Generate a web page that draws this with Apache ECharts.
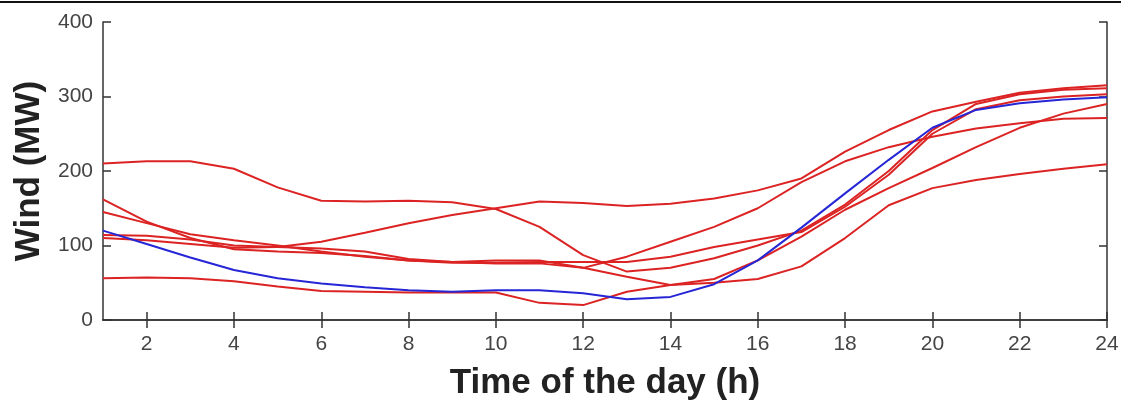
<!DOCTYPE html>
<html>
<head>
<meta charset="utf-8">
<script src="https://cdn.jsdelivr.net/npm/echarts@6/dist/echarts.min.js"></script>
<style>
  html, body { margin: 0; padding: 0; background: #fff; }
  #chart { width: 1121px; height: 400px; }
</style>
</head>
<body>
<div id="chart"></div>
<script>
const hours = [1,2,3,4,5,6,7,8,9,10,11,12,13,14,15,16,17,18,19,20,21,22,23,24];
const yTicks = [0, 100, 200, 300, 400];

const redA = [210,213,213,203,178,160,159,160,158,149,125,87,65,70,83,100,120,155,200,255,290,303,309,311];
const redB = [110,107,102,97,98,105,117,130,141,150,159,157,153,156,163,174,190,226,255,280,293,305,311,315];
const redC = [162,132,110,95,92,90,86,80,78,80,80,70,85,105,125,150,185,213,232,246,257,264,270,271];
const redD = [145,130,115,107,100,92,85,80,77,77,78,78,78,85,98,108,118,152,195,250,283,295,300,303];
const redE = [114,113,108,100,98,96,92,82,78,76,76,70,58,47,55,80,112,148,177,204,232,258,277,290];
const redF = [56,57,56,52,45,39,38,37,37,37,23,20,38,47,50,55,72,110,154,177,188,196,203,209];
const blue = [120,102,84,67,56,49,44,40,38,40,40,36,28,31,48,80,124,170,215,258,282,291,296,299];

const reds = [redA, redB, redC, redD, redE, redF];
const RED = '#dc2323';
const BLUE = '#2626d6';
const AXIS = '#333';
const font = '"Liberation Sans", Arial, Helvetica, sans-serif';

const chart = echarts.init(document.getElementById('chart'));

const evenIdx = (i) => i % 2 === 1;

const series = reds.map((d) => ({
  type: 'line', data: d, showSymbol: false, symbol: 'none',
  lineStyle: { color: RED, width: 2 }, silent: true, animation: false
}));
series.push({
  type: 'line', data: blue, showSymbol: false, symbol: 'none',
  lineStyle: { color: BLUE, width: 2 }, silent: true, animation: false
});

chart.setOption({
  animation: false,
  backgroundColor: '#fff',
  grid: { left: 103, right: 14, top: 22, bottom: 80, containLabel: false, outerBoundsMode: 'none' },
  graphic: [{
    type: 'line', shape: { x1: 0, y1: 2, x2: 1121, y2: 2 },
    style: { stroke: '#111', lineWidth: 2 }
  }],
  xAxis: [{
    type: 'category', data: hours, boundaryGap: false, position: 'bottom',
    name: 'Time of the day (h)', nameLocation: 'middle', nameGap: 46,
    nameTextStyle: { fontFamily: font, fontSize: 35, fontWeight: 'bold', color: '#222' },
    axisLine: { lineStyle: { color: AXIS, width: 1.5 } },
    axisTick: { inside: true, length: 8, interval: evenIdx, lineStyle: { color: AXIS, width: 1.5 } },
    axisLabel: { interval: evenIdx, fontFamily: font, fontSize: 21, color: '#444', margin: 14 },
    splitLine: { show: false }
  }, {
    type: 'category', data: hours, boundaryGap: false, position: 'top',
    axisLine: { lineStyle: { color: AXIS, width: 1.5 } },
    axisTick: { inside: true, length: 8, interval: evenIdx, lineStyle: { color: AXIS, width: 1.5 } },
    axisLabel: { show: false },
    splitLine: { show: false }
  }],
  yAxis: [{
    type: 'value', min: yTicks[0], max: yTicks[yTicks.length - 1], interval: 100, position: 'left',
    name: 'Wind (MW)', nameLocation: 'middle', nameGap: 53,
    nameTextStyle: { fontFamily: font, fontSize: 35, fontWeight: 'bold', color: '#222' },
    axisLine: { show: true, lineStyle: { color: AXIS, width: 1.5 } },
    axisTick: { show: true, inside: true, length: 8, lineStyle: { color: AXIS, width: 1.5 } },
    axisLabel: { fontFamily: font, fontSize: 21, color: '#444', margin: 10 },
    splitLine: { show: false }
  }, {
    type: 'value', min: yTicks[0], max: yTicks[yTicks.length - 1], interval: 100, position: 'right',
    axisLine: { show: true, lineStyle: { color: AXIS, width: 1.5 } },
    axisTick: { show: true, inside: true, length: 8, lineStyle: { color: AXIS, width: 1.5 } },
    axisLabel: { show: false },
    splitLine: { show: false }
  }],
  series: series
});
</script>
</body>
</html>
